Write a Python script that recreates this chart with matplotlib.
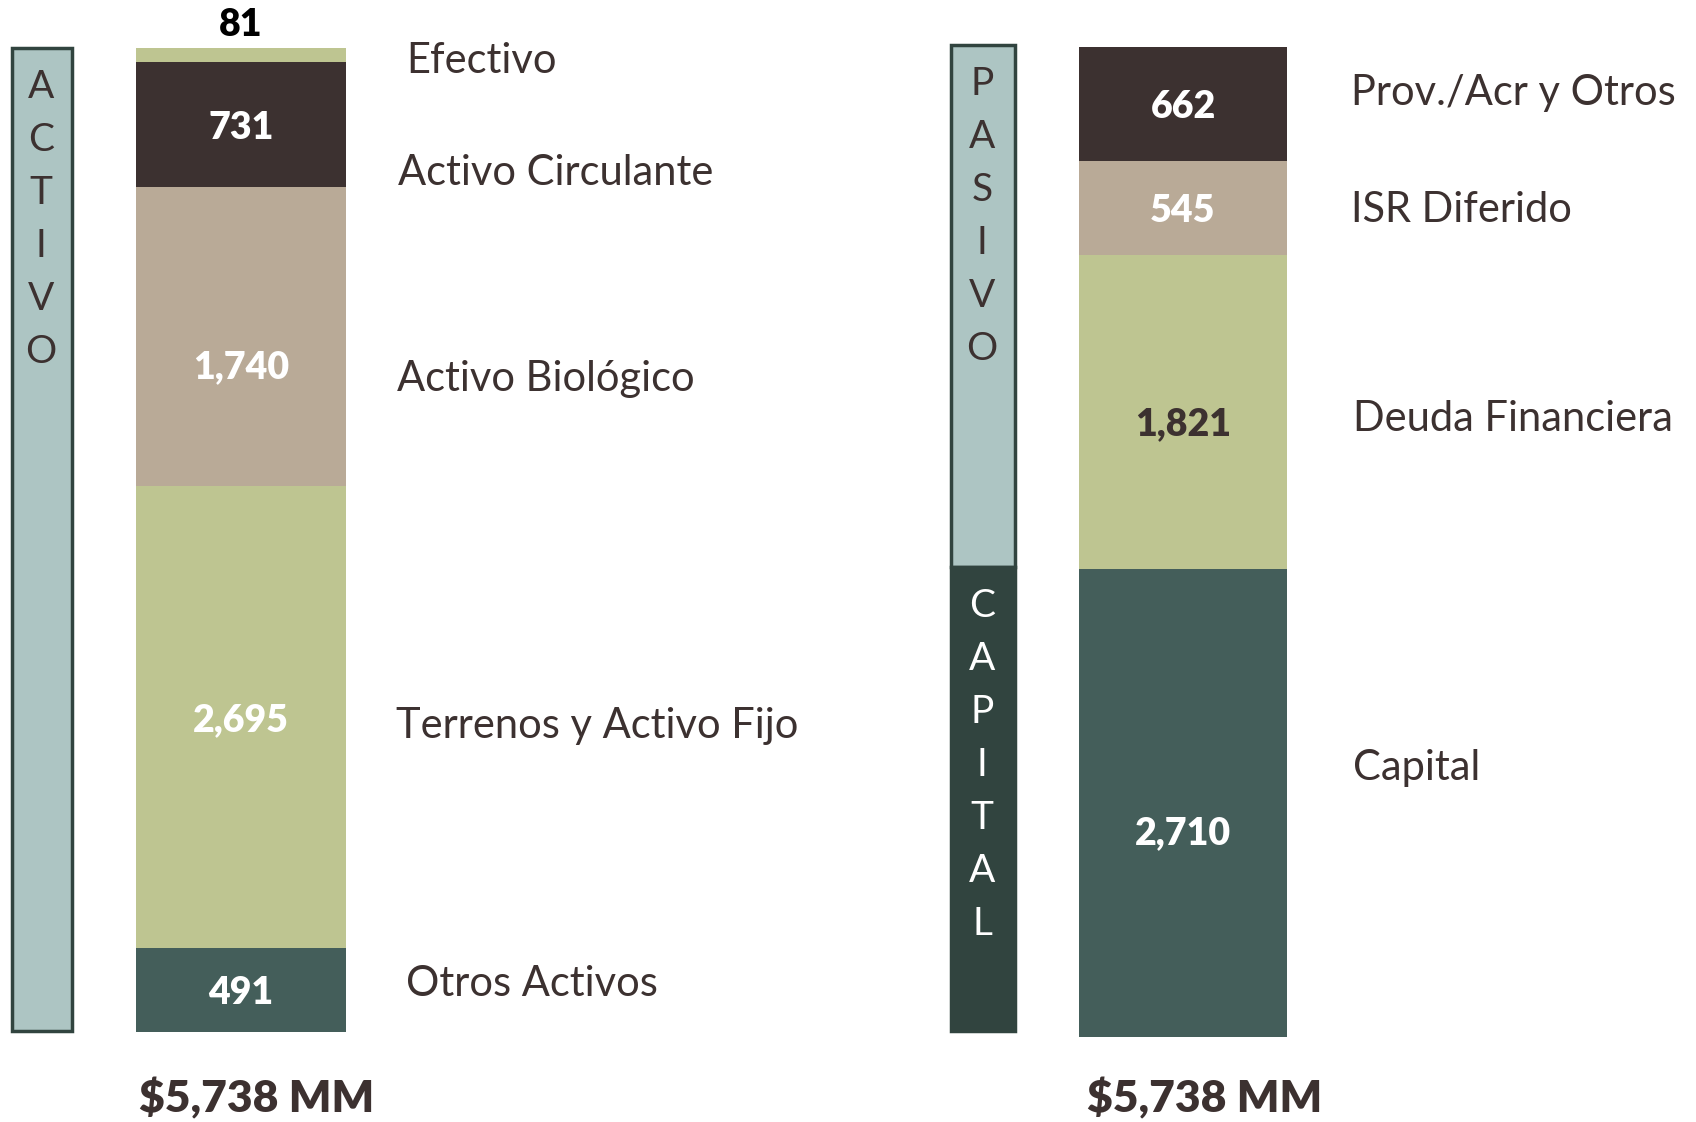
import matplotlib.pyplot as plt
from matplotlib.patches import Rectangle

plt.rcParams["font.family"] = ["Lato", "DejaVu Sans"]

# data (bottom to top)
activo_labels = ["Otros Activos", "Terrenos y Activo Fijo", "Activo Biológico",
                 "Activo Circulante", "Efectivo"]
activo_values = [491, 2695, 1740, 731, 81]
pasivo_labels = ["Capital", "Deuda Financiera", "ISR Diferido", "Prov./Acr y Otros"]
pasivo_values = [2710, 1821, 545, 662]
total_text = "$5,738 MM"

DARK = "#3c3130"
TAN = "#b9aa97"
GREEN = "#bec591"
TEAL = "#445e5a"
BOX = "#adc5c3"
BOXDARK = "#31443f"

activo_colors = [TEAL, GREEN, TAN, DARK, GREEN]
pasivo_colors = [TEAL, GREEN, TAN, DARK]
activo_txt = ["white", "white", "white", "white", "black"]
pasivo_txt = ["white", DARK, "white", "white"]

W, H = 1696, 1122
fig = plt.figure(figsize=(W / 100, H / 100), dpi=100)

# overlay in pixel coordinates for decorations and labels
ov = fig.add_axes([0, 0, 1, 1])
ov.set_xlim(0, W)
ov.set_ylim(H, 0)
ov.axis("off")


def bar_axes(x0, x1, y0, y1):
    ax = fig.add_axes([x0 / W, 1 - y1 / H, (x1 - x0) / W, (y1 - y0) / H])
    ax.axis("off")
    return ax


def stacked(ax, values, colors, txtcolors, nudge):
    bottom = 0
    for v, c, tc, n in zip(values, colors, txtcolors, nudge):
        ax.bar(0, v, width=1, bottom=bottom, color=c, linewidth=0)
        if v < 200:
            ax.text(0, bottom + v + 35, f"{v:,}", ha="center", va="bottom",
                    fontsize=27, fontweight="heavy", color=tc)
        else:
            ax.text(0, bottom + v / 2 + n - 18, f"{v:,}", ha="center", va="center",
                    fontsize=27, fontweight="heavy", color=tc)
        bottom += v
    ax.set_xlim(-0.5, 0.5)
    ax.set_ylim(0, bottom)


ax1 = bar_axes(136, 346, 48, 1032)
stacked(ax1, activo_values, activo_colors, activo_txt, [0, 0, -160, 0, 0])
ax2 = bar_axes(1079, 1287, 47, 1037)
stacked(ax2, pasivo_values, pasivo_colors, pasivo_txt, [-155, -50, 0, 0])

# side boxes
ov.add_patch(Rectangle((12, 48), 60, 983, facecolor=BOX, edgecolor=BOXDARK, lw=2.5))
ov.add_patch(Rectangle((951, 45), 64, 522, facecolor=BOX, edgecolor=BOXDARK, lw=2.5))
ov.add_patch(Rectangle((951, 567), 64, 464, facecolor=BOXDARK, edgecolor=BOXDARK, lw=2.5))


def vertical_word(word, x, y0, color):
    for i, ch in enumerate(word):
        ov.text(x, y0 + i * 53, ch, ha="center", va="center", fontsize=28, color=color)


vertical_word("ACTIVO", 41, 87, DARK)
vertical_word("PASIVO", 982, 84, DARK)
vertical_word("CAPITAL", 982, 606, "white")

# category labels
for lab, (x, y) in zip(activo_labels, [(406, 984), (396, 726), (397, 379), (398, 173), (406, 61)]):
    ov.text(x, y, lab, ha="left", va="center", fontsize=30, color=DARK)
for lab, (x, y) in zip(pasivo_labels, [(1353, 768), (1353, 419), (1351, 210), (1351, 93)]):
    ov.text(x, y, lab, ha="left", va="center", fontsize=30, color=DARK)

# totals
ov.text(257, 1098, total_text, ha="center", va="center", fontsize=32,
        fontweight="heavy", color=DARK)
ov.text(1205, 1098, total_text, ha="center", va="center", fontsize=32,
        fontweight="heavy", color=DARK)

fig.savefig("out.png", dpi=100, facecolor="white")
